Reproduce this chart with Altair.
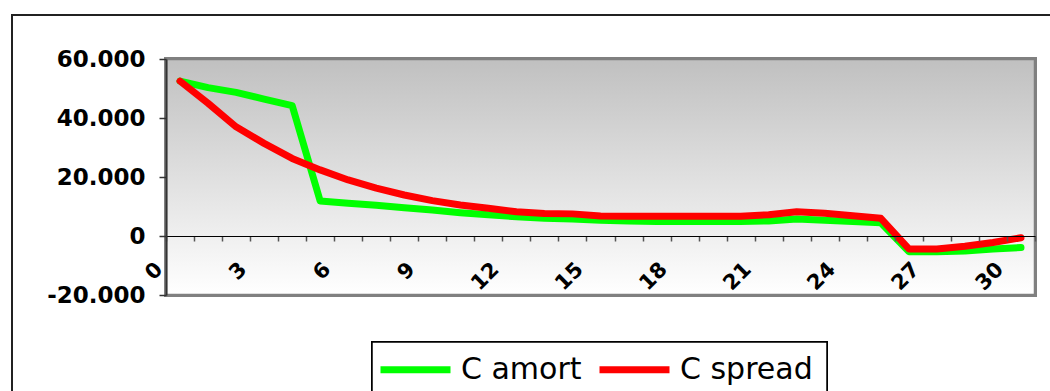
import altair as alt
import pandas as pd

# Period index (one band per period) and the two capital series, in units
periods = list(range(31))
c_amort = [52500, 50300, 48700, 46400, 44200, 11900, 11100, 10400, 9600, 8800,
           7900, 7200, 6500, 6000, 5800, 5300, 5100, 4900, 4900, 4900,
           4900, 5100, 5800, 5300, 4900, 4500, -5300, -5300, -5100, -4400,
           -3900]
c_spread = [52500, 45000, 37000, 31400, 26300, 22400, 19000, 16200, 13900, 12000,
            10500, 9400, 8200, 7600, 7500, 6800, 6700, 6700, 6700, 6700,
            6700, 7200, 8200, 7700, 6900, 6000, -4400, -4400, -3500, -2200,
            -600]
series_names = ["C amort", "C spread"]
series_colors = ["#00ff00", "#ff0000"]
y_ticks = [-20000, 0, 20000, 40000, 60000]

df = pd.DataFrame(
    [{"period": p, "serie": series_names[0], "value": v} for p, v in zip(periods, c_amort)]
    + [{"period": p, "serie": series_names[1], "value": v} for p, v in zip(periods, c_spread)]
)

W, H = 869, 236
FONT = "DejaVu Sans"

# European thousands separator, plain hyphen for negatives
y_label = "(datum.value < 0 ? '-' : '') + replace(format(abs(datum.value), ','), ',', '.')"

x_scale = alt.Scale(domain=[0, 31], nice=False, zero=False)
y_scale = alt.Scale(domain=[-20000, 60000], nice=False)

# Plot-area gradient with grey border
plot_bg = alt.Chart(df).mark_rect(
    fill=alt.Gradient(
        gradient="linear",
        stops=[alt.GradientStop(color="#c0c0c0", offset=0),
               alt.GradientStop(color="#ffffff", offset=1)],
        x1=0, x2=0, y1=0, y2=1,
    ),
    stroke="#808080",
    strokeWidth=2.5,
).encode(
    x=alt.value(0), x2=alt.value(W), y=alt.value(0), y2=alt.value(H)
)

# Outer chart-area frame
frame = alt.Chart(df).mark_rect(
    fill="#ffffff", fillOpacity=0, stroke="#222222", strokeWidth=1.5
).encode(
    x=alt.value(-154), x2=alt.value(900), y=alt.value(-44), y2=alt.value(345)
)

# Box around the legend
legend_box = alt.Chart(df).mark_rect(
    fill="#ffffff", stroke="#000000", strokeWidth=1.5
).encode(
    x=alt.value(206), x2=alt.value(661), y=alt.value(283), y2=alt.value(345)
)

lines = alt.Chart(df).transform_calculate(
    xc="datum.period + 0.5"
).mark_line(
    strokeWidth=7, strokeCap="round", strokeJoin="round"
).encode(
    x=alt.X(
        "xc:Q",
        scale=x_scale,
        title=None,
        axis=alt.Axis(
            values=list(range(32)),
            labelExpr="datum.value % 3 === 0 ? datum.value : ''",
            offset=-59,
            zindex=1,
            grid=False,
            domainColor="#000000",
            domainWidth=1.2,
            tickColor="#555555",
            tickSize=5,
            tickWidth=1.5,
            labelAngle=-45,
            labelAlign="right",
            labelBaseline="middle",
            labelPadding=25,
            labelOffset=-7,
            labelFont=FONT,
            labelFontWeight="bold",
            labelFontSize=21,
            labelColor="#000000",
            labelOverlap=False,
            labelFlush=False,
            labelBound=False,
        ),
    ),
    y=alt.Y(
        "value:Q",
        scale=y_scale,
        title=None,
        axis=alt.Axis(
            values=y_ticks,
            labelExpr=y_label,
            zindex=1,
            grid=False,
            domainColor="#333333",
            domainWidth=2,
            tickColor="#333333",
            tickSize=7,
            tickWidth=1.5,
            labelPadding=14,
            labelFont=FONT,
            labelFontWeight="bold",
            labelFontSize=23,
            labelColor="#000000",
            labelOverlap=False,
            labelFlush=False,
            labelBound=False,
        ),
    ),
    color=alt.Color(
        "serie:N",
        scale=alt.Scale(domain=series_names, range=series_colors),
        legend=alt.Legend(
            title=None,
            orient="none",
            legendX=201,
            legendY=262,
            direction="horizontal",
            symbolType="stroke",
            symbolSize=4900,
            symbolStrokeWidth=7,
            labelFont=FONT,
            labelFontSize=30,
            labelColor="#000000",
            labelOffset=7,
            columnPadding=3,
            padding=10,
        ),
    ),
    detail="serie:N",
)

chart = alt.layer(frame, legend_box, plot_bg, lines).properties(
    width=W,
    height=H,
    autosize=alt.AutoSizeParams(type="none"),
    padding={"left": 166, "top": 59, "right": 15, "bottom": 96},
    background="#ffffff",
).configure_view(strokeWidth=0)

chart.save("out.html", embed_options={"renderer": "svg", "actions": False})
